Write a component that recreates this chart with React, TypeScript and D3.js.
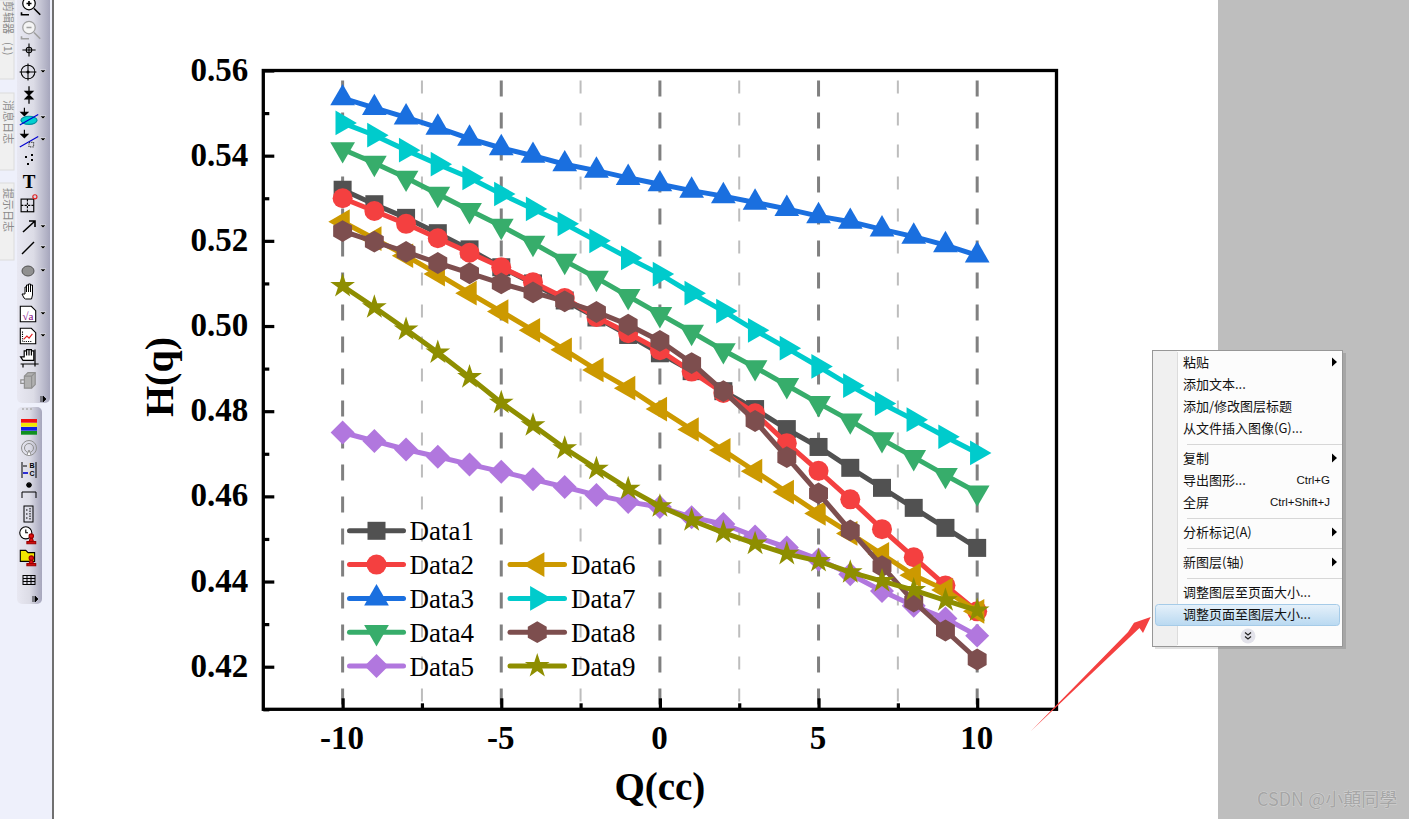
import React, { useEffect, useRef } from 'react';
import * as d3 from 'd3';

const WIDTH = 1409;
const HEIGHT = 819;

// x is -10..10 in steps of one
const qValues = d3.range(-10, 11);

const data1 = [0.532, 0.5286, 0.5254, 0.5218, 0.518, 0.5138, 0.51, 0.506, 0.502, 0.4979, 0.4936, 0.4894, 0.4847, 0.4805, 0.4758, 0.4716, 0.4667, 0.462, 0.4573, 0.4526, 0.4479];
const data2 = [0.53, 0.527, 0.524, 0.5206, 0.5172, 0.5138, 0.5103, 0.5066, 0.5021, 0.4983, 0.4943, 0.4893, 0.4843, 0.4795, 0.4725, 0.466, 0.4593, 0.4523, 0.4457, 0.4391, 0.433];
const data3 = [0.5535, 0.5512, 0.549, 0.5466, 0.544, 0.5418, 0.54, 0.538, 0.5365, 0.5348, 0.5333, 0.5318, 0.5305, 0.529, 0.5275, 0.5258, 0.5245, 0.5227, 0.521, 0.519, 0.5166];
const data4 = [0.5415, 0.5383, 0.5348, 0.531, 0.5272, 0.5235, 0.5195, 0.5153, 0.5113, 0.507, 0.5028, 0.4986, 0.4943, 0.4903, 0.4861, 0.4819, 0.4778, 0.4734, 0.4692, 0.465, 0.4609];
const data5 = [0.475, 0.473, 0.471, 0.4693, 0.4675, 0.4658, 0.464, 0.4622, 0.4603, 0.4587, 0.4575, 0.4551, 0.4535, 0.4506, 0.448, 0.4452, 0.4417, 0.4378, 0.4343, 0.4313, 0.4273];
const data6 = [0.5245, 0.5205, 0.5165, 0.5122, 0.5077, 0.5034, 0.499, 0.4944, 0.4897, 0.4854, 0.4805, 0.4757, 0.4708, 0.4659, 0.461, 0.456, 0.4513, 0.4464, 0.4415, 0.438, 0.433];
const data7 = [0.5477, 0.5448, 0.5413, 0.538, 0.5348, 0.531, 0.5275, 0.524, 0.52, 0.516, 0.5122, 0.5077, 0.5035, 0.499, 0.4948, 0.4905, 0.486, 0.4818, 0.478, 0.474, 0.4702];
const data8 = [0.5223, 0.5198, 0.5174, 0.5148, 0.5124, 0.51, 0.5079, 0.5058, 0.5033, 0.5003, 0.4965, 0.4913, 0.4847, 0.4777, 0.4692, 0.4607, 0.452, 0.4436, 0.4353, 0.4285, 0.4217];
const data9 = [0.5094, 0.5044, 0.4992, 0.4938, 0.488, 0.482, 0.4767, 0.4713, 0.4665, 0.4618, 0.4577, 0.4544, 0.4515, 0.4489, 0.4465, 0.4448, 0.4422, 0.4401, 0.438, 0.4356, 0.4332];

const seriesValues = [data1, data2, data3, data4, data5, data6, data7, data8, data9];
const seriesNames = ['Data1', 'Data2', 'Data3', 'Data4', 'Data5', 'Data6', 'Data7', 'Data8', 'Data9'];
const seriesColors = ['#515151', '#f44040', '#1a6fdf', '#37ad6b', '#b177de', '#cc9900', '#00cbcc', '#7d4e4e', '#8e8e00'];

const xMajorTicks = [-10, -5, 0, 5, 10];
const xMinorTicks = [-7.5, -2.5, 2.5, 7.5];
const yMajorTicks = [0.42, 0.44, 0.46, 0.48, 0.5, 0.52, 0.54, 0.56];
const yMinorTicks = [0.41, 0.43, 0.45, 0.47, 0.49, 0.51, 0.53, 0.55];

const menuItems = ['粘贴', '添加文本...', '添加/修改图层标题', '从文件插入图像(G)...', '复制', '导出图形...', '全屏', '分析标记(A)', '新图层(轴)', '调整图层至页面大小...', '调整页面至图层大小...'];
const menuItemRows = [362, 384, 406, 428, 458, 480, 502, 532, 562, 592, 614];
const menuSeparators = [444, 518, 548, 578];
const menuSubmenuRows = [362, 458, 532, 562];

const serif = '"Liberation Serif", serif';
const cjk = '"Noto Sans CJK SC", sans-serif';

// Origin's filled hexagon, flat sides left and right
const symbolHexagon = {
  draw(context: any, size: number) {
    const r = Math.sqrt(size / 2.598);
    for (let i = 0; i < 6; i++) {
      const a = (Math.PI / 3) * i;
      const px = r * Math.sin(a);
      const py = -r * Math.cos(a);
      if (i === 0) context.moveTo(px, py);
      else context.lineTo(px, py);
    }
    context.closePath();
  },
};

// symbol type, size and rotation for each series
const seriesSymbols: [any, number, number][] = [
  [d3.symbolSquare, 324, 0],
  [d3.symbolCircle, 314, 0],
  [d3.symbolTriangle, 265, 0],
  [d3.symbolTriangle, 265, 180],
  [d3.symbolDiamond2, 367, 0],
  [d3.symbolTriangle, 265, -90],
  [d3.symbolTriangle, 265, 90],
  [symbolHexagon, 310, 0],
  [d3.symbolStar, 190, 0],
];

const Chart: React.FC = () => {
  const gRef = useRef<SVGGElement | null>(null);

  useEffect(() => {
    if (!gRef.current) return;
    const root = d3.select(gRef.current);
    root.selectAll('*').remove();

    const left = 263.3;
    const right = 1056.5;
    const top = 70.5;
    const bottom = 709.3;

    const x = d3.scaleLinear().domain([-12.5, 12.5]).range([left, right]);
    const y = d3.scaleLinear().domain([0.41, 0.56]).range([bottom, top]);

    // dashed guide lines
    root.selectAll('.major-line').data(xMajorTicks).enter().append('line')
      .attr('x1', (d) => x(d)).attr('x2', (d) => x(d))
      .attr('y1', top).attr('y2', bottom)
      .attr('stroke', '#808080').attr('stroke-width', 3)
      .attr('stroke-dasharray', '16 16').attr('stroke-dashoffset', 22);
    root.selectAll('.minor-line').data(xMinorTicks).enter().append('line')
      .attr('x1', (d) => x(d)).attr('x2', (d) => x(d))
      .attr('y1', top).attr('y2', bottom)
      .attr('stroke', '#bdbdbd').attr('stroke-width', 2)
      .attr('stroke-dasharray', '13 19').attr('stroke-dashoffset', 22);

    // series, in order, each line with its own markers
    const line = d3.line<number>().x((_, i) => x(qValues[i])).y((d) => y(d));
    seriesValues.forEach((values, s) => {
      const [type, size, rot] = seriesSymbols[s];
      const group = root.append('g');
      group.append('path')
        .attr('d', line(values))
        .attr('fill', 'none')
        .attr('stroke', seriesColors[s])
        .attr('stroke-width', 5);
      group.selectAll('path.marker').data(values).enter().append('path')
        .attr('class', 'marker')
        .attr('d', d3.symbol().type(type).size(size)() as string)
        .attr('transform', (d, i) => `translate(${x(qValues[i])},${y(d)}) rotate(${rot})`)
        .attr('fill', seriesColors[s]);
    });

    // legend: five rows on the left, four on the right starting at row two
    const legendRow = d3.scaleLinear().domain([0, 4]).range([530.8, 666]);
    seriesNames.forEach((name, s) => {
      const inFirst = s < 5;
      const row = inFirst ? s : s - 4;
      const [type, size, rot] = seriesSymbols[s];
      const x1 = inFirst ? 349.5 : 510;
      const x2 = inFirst ? 403.5 : 564.5;
      const ly = legendRow(row);
      const item = root.append('g');
      item.append('line')
        .attr('x1', x1).attr('x2', x2).attr('y1', ly).attr('y2', ly)
        .attr('stroke', seriesColors[s]).attr('stroke-width', 5)
        .attr('stroke-linecap', 'round');
      item.append('path')
        .attr('d', d3.symbol().type(type).size(size)() as string)
        .attr('transform', `translate(${(x1 + x2) / 2},${ly}) rotate(${rot})`)
        .attr('fill', seriesColors[s]);
      item.append('text')
        .attr('x', inFirst ? 409.5 : 571)
        .attr('y', ly + 9.5)
        .attr('font-family', serif)
        .attr('font-size', 27)
        .attr('fill', '#000')
        .text(name);
    });

    // axes, ticks point into the frame
    const styleAxis = (sel: any) => {
      sel.select('.domain').remove();
      sel.selectAll('line').attr('stroke', '#000').attr('stroke-width', 3.2);
      sel.selectAll('text')
        .attr('font-family', serif)
        .attr('font-weight', 'bold')
        .attr('font-size', 33)
        .attr('fill', '#000');
    };
    root.append('g').attr('transform', `translate(0,${bottom})`)
      .call(d3.axisBottom(x).tickValues(xMajorTicks).tickSize(-11).tickPadding(16).tickFormat((d) => String(d)))
      .call(styleAxis)
      .selectAll('text').attr('dx', -1);
    root.append('g').attr('transform', `translate(0,${bottom})`)
      .call(d3.axisBottom(x).tickValues(xMinorTicks).tickSize(-6).tickFormat(() => ''))
      .call(styleAxis);
    root.append('g').attr('transform', `translate(${left},0)`)
      .call(d3.axisLeft(y).tickValues(yMajorTicks).tickSize(-11).tickPadding(15).tickFormat(d3.format('.2f') as any))
      .call(styleAxis)
      .selectAll('text').attr('dy', '0.29em');
    root.append('g').attr('transform', `translate(${left},0)`)
      .call(d3.axisLeft(y).tickValues(yMinorTicks).tickSize(-6).tickFormat(() => ''))
      .call(styleAxis);

    // frame
    root.append('rect')
      .attr('x', left).attr('y', top)
      .attr('width', right - left).attr('height', bottom - top)
      .attr('fill', 'none').attr('stroke', '#000').attr('stroke-width', 3.3);

    // axis titles
    root.append('text')
      .attr('x', (left + right) / 2).attr('y', 800)
      .attr('text-anchor', 'middle')
      .attr('font-family', serif).attr('font-weight', 'bold').attr('font-size', 39)
      .text('Q(cc)');
    root.append('text')
      .attr('transform', 'translate(173,377) rotate(-90)')
      .attr('text-anchor', 'middle')
      .attr('font-family', serif).attr('font-weight', 'bold').attr('font-size', 40)
      .text('H(q)');
  }, []);

  return <g ref={gRef} />;
};

const Drop: React.FC<{ y: number }> = ({ y }) => <path d={`M40 ${y - 2}h6l-3 3z`} fill="#000" stroke="#fff" strokeWidth={0.5} />;

// The software's icon strip on the left of the screenshot
const Toolbar: React.FC = () => (
  <g>
    <rect x={0} y={0} width={52} height={HEIGHT} fill="#eef0fb" />
    <rect x={52} y={0} width={2} height={HEIGHT} fill="#707070" />
    {[[0, 79], [93, 77], [183, 77]].map(([ty, th]) => (
      <rect key={ty} x={-2} y={ty} width={16} height={th} fill="#f0f0f0" stroke="#dcdcdc" />
    ))}
    <g fontFamily={cjk} fontSize={11} fill="#8a8a8a">
      <text transform="translate(3.5,1) rotate(90)">剪辑器<tspan dx={8}>(1)</tspan></text>
      <text transform="translate(3.5,100) rotate(90)">消息日志</text>
      <text transform="translate(3.5,188) rotate(90)">提示日志</text>
    </g>
    <rect x={17} y={-5} width={33} height={408} rx={5} fill="url(#barFill)" />
    <rect x={17} y={407} width={25} height={197} rx={5} fill="url(#barFill)" />
    <g stroke="#000" fill="none" strokeWidth={1}>
      <g transform="translate(29,6) scale(1.25)">
        <circle cx={0} cy={-2} r={5} fill="#fff" /><path d="M4 2l5 5M-6 5v2h6M-2 -2h4M0 -4v4" strokeWidth={1.3} />
      </g>
      <g transform="translate(29,30) scale(1.25)" stroke="#a0a0a0">
        <circle cx={0} cy={-2} r={5} fill="#f4f4f4" /><path d="M4 2l5 5M-6 5v2h6M-2 -2h4" strokeWidth={1.3} />
      </g>
      <g transform="translate(29,50) scale(1.1)">
        <path d="M-6 0h12M0 -6v12" /><circle r={2.5} />
      </g>
      <g transform="translate(28,72) scale(1.05)">
        <circle r={6.5} /><path d="M-8 0h16M0 -8v16" /><circle r={1} fill="#000" />
      </g>
      <g transform="translate(29,95) scale(1.25)" fill="#000">
        <path d="M0 -7v5M-3 -3h6l-3 3zM-3 3h6l-3 -3zM0 3v4" />
      </g>
      <g transform="translate(29,118) scale(1.15)">
        <path d="M-4 -9v5M-7 -5h6l-3 3z" fill="#000" /><ellipse cx={0} cy={2} rx={7} ry={3.5} fill="#00d0d0" stroke="#0090a0" />
        <path d="M-8 6L8 -3" stroke="#0000d0" />
      </g>
      <g transform="translate(29,140) scale(1.15)">
        <path d="M-4 -9v5M-7 -5h6l-3 3z" fill="#000" /><path d="M-8 6L8 -3" stroke="#0000d0" /><path d="M0 2h4v4h-4z" stroke="#333" strokeDasharray="1 1" />
      </g>
      <path d="M25 157h2M31 155h2M31 160h2M27 164h2" strokeWidth={2} />
      <text x={29} y={188} textAnchor="middle" fontFamily={serif} fontWeight="bold" fontSize={19} fill="#000" stroke="none">T</text>
      <g transform="translate(28,206) scale(1.15)">
        <rect x={-6} y={-6} width={11} height={11} /><path d="M-6 -0.5h11M-0.5 -6v11" strokeDasharray="2 1" />
        <circle cx={6} cy={-8} r={1.8} stroke="#e02020" />
      </g>
      <path d="M23 232L35 221M29 221h6v6" strokeWidth={1.6} />
      <path d="M22 254L34 242" strokeWidth={1.4} />
      <ellipse cx={28} cy={271} rx={6} ry={5} fill="#909090" stroke="#505050" />
      <path d="M24 298l-2 -4 3 0v-7h1.5v5-7h2v7-8h2v8-7h2v10l-1 4h-6z" fill="#fff" />
      <g transform="translate(28,314) scale(1.1)">
        <path d="M-7 -7h10l4 4v10h-14z" fill="#fff" /><text x={0} y={5} textAnchor="middle" fontFamily={serif} fontSize={10} fill="#800080" stroke="none">√a</text>
      </g>
      <g transform="translate(28,336) scale(1.1)">
        <path d="M-7 -7h10l4 4v10h-14z" fill="#fff" /><path d="M-4 3l3 -3 2 2 3 -4" stroke="#e02020" /><path d="M-5 -4v9h9" strokeDasharray="1 1" />
      </g>
      <g transform="translate(29,358) scale(1.2)">
        <path d="M-5 2l-2 -3 3 0v-5h2v4-5h2v5-5h2v5-4h2v8z" fill="#fff" /><path d="M-7 5h15M5 -7v14M-5 5v3" />
      </g>
      <g transform="translate(28,381) scale(1.2)" stroke="#909090">
        <path d="M-3 -4l3 -3h6v10l-3 3h-6z" fill="#b0b0b0" /><path d="M-3 -4h6v10M3 -4l3 -3M-3 -1h-3v3h3" />
      </g>
      <path d="M22 409h12" stroke="#b0b0b0" strokeWidth={1.5} strokeDasharray="2 2" />
      <rect x={21} y={419} width={16} height={3.7} fill="#f01010" stroke="none" />
      <rect x={21} y={423} width={16} height={3.7} fill="#f0e800" stroke="none" />
      <rect x={21} y={427} width={16} height={3.7} fill="#1020e0" stroke="none" />
      <rect x={21} y={431} width={16} height={3.7} fill="#109020" stroke="none" />
      <g transform="translate(29,448)" stroke="#909090">
        <circle r={7.5} /><circle r={4.5} /><path d="M-2 7l2 -5 2 5" fill="#fff" />
      </g>
      <g transform="translate(29,470)">
        <path d="M-7 -8v16M7 -8v16" /><path d="M-6 -4h4" />
        <text x={3} y={-2} textAnchor="middle" fontFamily='"Liberation Sans"' fontWeight="bold" fontSize={7} fill="#000" stroke="none">B</text>
        <path d="M-6 3h5" stroke="#0000d0" strokeWidth={1.6} />
        <text x={3} y={6} textAnchor="middle" fontFamily='"Liberation Sans"' fontWeight="bold" fontSize={7} fill="#000" stroke="none">C</text>
      </g>
      <g transform="translate(29,491)">
        <path d="M-7 7v-6h14v6" /><path d="M-3 -6h6M0 -9v6M-2 -8l4 4M2 -8l-4 4" strokeWidth={1.3} />
      </g>
      <g transform="translate(28,514)">
        <rect x={-4} y={-8} width={9} height={16} /><path d="M-2 -4h2M-2 0h2M-2 4h2M2 -6v12" strokeDasharray="1.5 1" />
      </g>
      <g transform="translate(28,535) scale(1.1)">
        <circle cx={-2} cy={-2} r={5.5} fill="#fff" /><path d="M-2 -5v3h2" />
        <path d="M-1 6h8v2h-8zM1 6l1 -3h2l1 3" fill="#e01010" stroke="#900" /><circle cx={3} cy={1} r={2} fill="#e01010" stroke="#900" />
      </g>
      <g transform="translate(28,557) scale(1.1)">
        <path d="M-7 -6h5l2 2h6v8h-13z" fill="#f0e800" />
        <path d="M-1 6h8v2h-8zM1 6l1 -3h2l1 3" fill="#e01010" stroke="#900" /><circle cx={3} cy={1} r={2} fill="#e01010" stroke="#900" />
      </g>
      <g transform="translate(29,580)">
        <rect x={-6} y={-4.5} width={12} height={9} /><path d="M-6 -1.5h12M-6 1.5h12M-2 -4.5v9M2 -4.5v9" />
      </g>
    </g>
    {[72, 118, 140, 227, 248, 271, 314, 336].map((dy) => <Drop key={dy} y={dy} />)}
    <path d="M41 396v6M43 396l3 3-3 3z" fill="#000" stroke="#000" strokeWidth={0.8} />
    <path d="M33 596v6M35 596l3 3-3 3z" fill="#000" stroke="#000" strokeWidth={0.8} />
  </g>
);

// The right-click menu, arrow and watermark pasted on the screenshot
const PopupMenu: React.FC = () => (
  <g>
    <rect x={1155} y={353} width={191} height={296} fill="#000" opacity={0.12} />
    <rect x={1152.5} y={350.5} width={190} height={296} fill="#fcfcfc" stroke="#979797" />
    <rect x={1153} y={351} width={24} height={295} fill="#f0f0f0" />
    <line x1={1177.5} x2={1177.5} y1={352} y2={645} stroke="#dcdcdc" />
    {menuSeparators.map((sy) => (
      <line key={sy} x1={1187} x2={1342} y1={sy + 0.5} y2={sy + 0.5} stroke="#d7d7d7" />
    ))}
    <rect x={1155.5} y={604.5} width={184} height={21} rx={3} fill="url(#menuHi)" stroke="#a5cbe8" />
    {menuItems.map((t, i) => (
      <text key={t} x={1183} y={menuItemRows[i] + 4.5} fontFamily={cjk} fontSize={13} fill="#111">{t}</text>
    ))}
    <text x={1330} y={484} textAnchor="end" fontFamily='"Liberation Sans"' fontSize={11.5} fill="#111">Ctrl+G</text>
    <text x={1330} y={506} textAnchor="end" fontFamily='"Liberation Sans"' fontSize={11.5} fill="#111">Ctrl+Shift+J</text>
    {menuSubmenuRows.map((my) => <path key={my} d={`M1332 ${my - 4.5}l5 4.5-5 4.5z`} fill="#000" />)}
    <circle cx={1248} cy={636} r={7.5} fill="#e2e2ea" />
    <path d="M1245 632.5l3 2.5 3-2.5M1245 636.5l3 2.5 3-2.5" fill="none" stroke="#222" strokeWidth={1.2} />
    <path d="M1031 731L1128 632L1134 622.7L1150.7 617L1143 633L1139.5 628z" fill="#f44040" />
    <text x={1257} y={806} fontFamily='"Noto Sans CJK TC", sans-serif' fontSize={18} fill="#a6a6a6" stroke="#fff" strokeOpacity={0.35} strokeWidth={0.8} paintOrder="stroke">CSDN @小顛同學</text>
  </g>
);

const App: React.FC = () => (
  <svg
    width={WIDTH}
    height={HEIGHT}
    style={{ position: 'absolute', left: 0, top: 0, display: 'block' }}
  >
    <defs>
      <linearGradient id="barFill" x1="0" x2="1" y1="0" y2="0">
        <stop offset="0" stopColor="#e8e8f2" />
        <stop offset="0.5" stopColor="#dcdce6" />
        <stop offset="1" stopColor="#a6a6bc" />
      </linearGradient>
      <linearGradient id="menuHi" x1="0" x2="0" y1="0" y2="1">
        <stop offset="0" stopColor="#e6f1fa" />
        <stop offset="1" stopColor="#b9d9f1" />
      </linearGradient>
    </defs>
    <rect x={0} y={0} width={WIDTH} height={HEIGHT} fill="#fff" />
    <rect x={1218} y={0} width={191} height={HEIGHT} fill="#bebebe" />
    <Toolbar />
    <Chart />
    <PopupMenu />
  </svg>
);

export default App;
